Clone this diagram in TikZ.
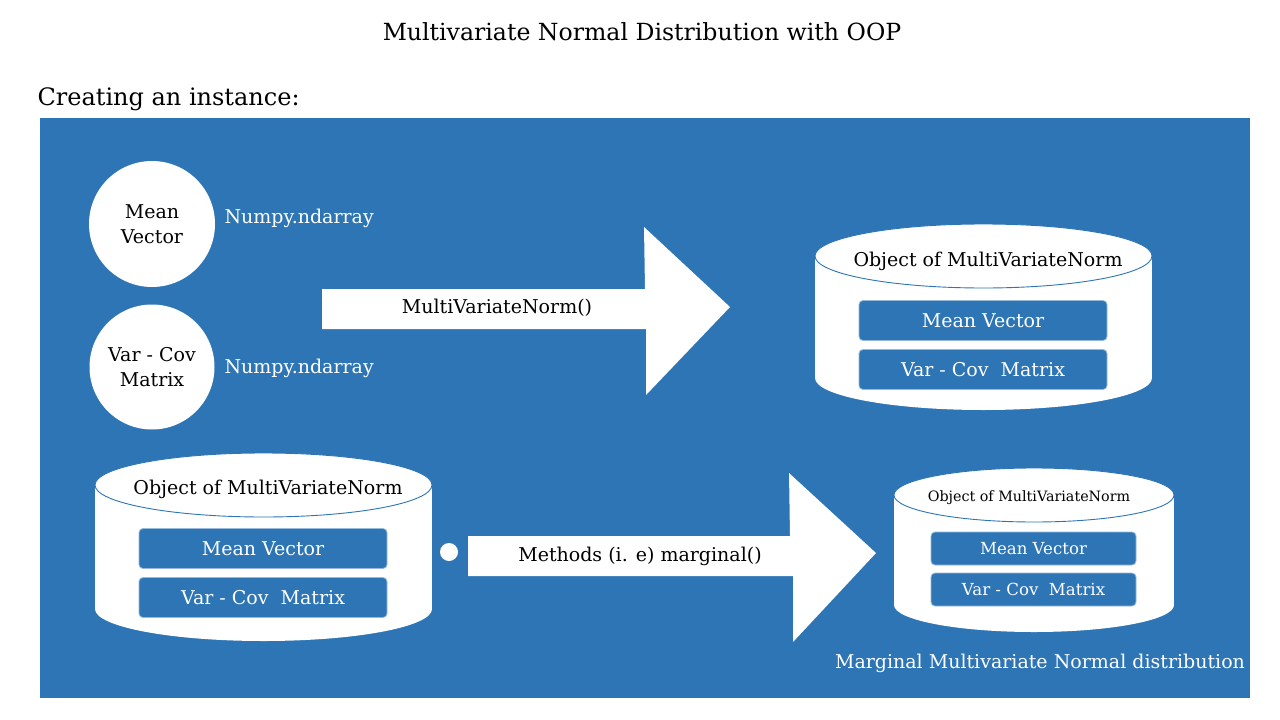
\documentclass[tikz,border=0pt]{standalone}
\usepackage{fontspec}
\setmainfont{DejaVu Serif}
\definecolor{bg}{RGB}{46,117,182}
\definecolor{boxline}{RGB}{150,185,220}
\tikzset{
  ttl/.style={font=\fontsize{23.6}{28}\selectfont, text=black},
  whitelbl/.style={font=\fontsize{19}{22}\selectfont, text=white},
  blacklbl/.style={font=\fontsize{19}{25}\selectfont, text=black},
  innerbox/.style={draw=boxline, line width=0.8pt, fill=bg, rounded corners=4pt},
  cylbody/.style={fill=white},
  cyltop/.style={fill=white, draw=bg, line width=0.9pt},
  blockarrow/.style={fill=white},
}
\begin{document}
\begin{tikzpicture}[x=1pt,y=-1pt]
\useasboundingbox (0,0) rectangle (1280,720);
\fill[white] (0,0) rectangle (1280,720);
\node[ttl] (title) at (642,32) {Multivariate Normal Distribution with OOP};
\node[ttl, font=\fontsize{24}{28}\selectfont, anchor=west] (creating) at (34,99) {Creating an instance:};
\fill[bg] (40,118) rectangle (1250,698);
% circles
\node[circle, fill=white, minimum size=126pt, inner sep=0pt, align=center, blacklbl] (mean) at (152,224) {Mean\\Vector};
\node[circle, fill=white, minimum size=125pt, inner sep=0pt, align=center, blacklbl] (varcov) at (152,367) {Var - Cov\\Matrix};
\node[whitelbl, anchor=west] (np1) at (221,218) {Numpy.ndarray};
\node[whitelbl, anchor=west] (np2) at (221,368) {Numpy.ndarray};
% arrow 1
\fill[blockarrow] (322,289) -- (645,289) -- (644,227) -- (730,307) -- (646,395) -- (646,329) -- (322,329) -- cycle;
\node[blacklbl] (a1lbl) at (497,308) {MultiVariateNorm()};
% cylinder 1
\fill[cylbody] (815,256) rectangle (1152,378);
\fill[cylbody] (983.5,378) ellipse [x radius=168.5pt, y radius=32pt];
\draw[cyltop] (983.5,256) ellipse [x radius=168.5pt, y radius=32pt];
\node[blacklbl] (obj1) at (988,261) {Object of MultiVariateNorm};
\node[innerbox, minimum width=248pt, minimum height=40pt, whitelbl] (mv1) at (983,320.5) {Mean Vector};
\node[innerbox, minimum width=248pt, minimum height=40pt, whitelbl] (vc1) at (983,369.5) {Var - Cov~ Matrix};
% cylinder 2
\fill[cylbody] (95,485) rectangle (432,609);
\fill[cylbody] (263.5,609) ellipse [x radius=168.5pt, y radius=32pt];
\draw[cyltop] (263.5,485) ellipse [x radius=168.5pt, y radius=32pt];
\node[blacklbl] (obj2) at (268,489) {Object of MultiVariateNorm};
\node[innerbox, minimum width=248pt, minimum height=40pt, whitelbl] (mv2) at (263,548.5) {Mean Vector};
\node[innerbox, minimum width=248pt, minimum height=40pt, whitelbl] (vc2) at (263,597.5) {Var - Cov~ Matrix};
% dot
\node[circle, fill=white, minimum size=18pt, inner sep=0pt] (dot) at (449,552) {};
% arrow 2
\fill[blockarrow] (468,536) -- (790,536) -- (789,473) -- (876,553) -- (793,642) -- (793,576) -- (468,576) -- cycle;
\node[blacklbl] (a2lbl) at (640,556) {Methods (i. e) marginal()};
% cylinder 3
\fill[cylbody] (894,495) rectangle (1174,605);
\fill[cylbody] (1034,605) ellipse [x radius=140pt, y radius=27pt];
\draw[cyltop] (1034,495) ellipse [x radius=140pt, y radius=27pt];
\node[blacklbl, font=\fontsize{14.3}{17}\selectfont] (obj3) at (1029,498) {Object of MultiVariateNorm};
\node[innerbox, minimum width=205pt, minimum height=33pt, whitelbl, font=\fontsize{16.6}{19}\selectfont] (mv3) at (1033.5,548.5) {Mean Vector};
\node[innerbox, minimum width=205pt, minimum height=33pt, whitelbl, font=\fontsize{16.6}{19}\selectfont] (vc3) at (1033.5,589.5) {Var - Cov~ Matrix};
\node[whitelbl] (marg) at (1040,663) {Marginal Multivariate Normal distribution};
\end{tikzpicture}
\end{document}
